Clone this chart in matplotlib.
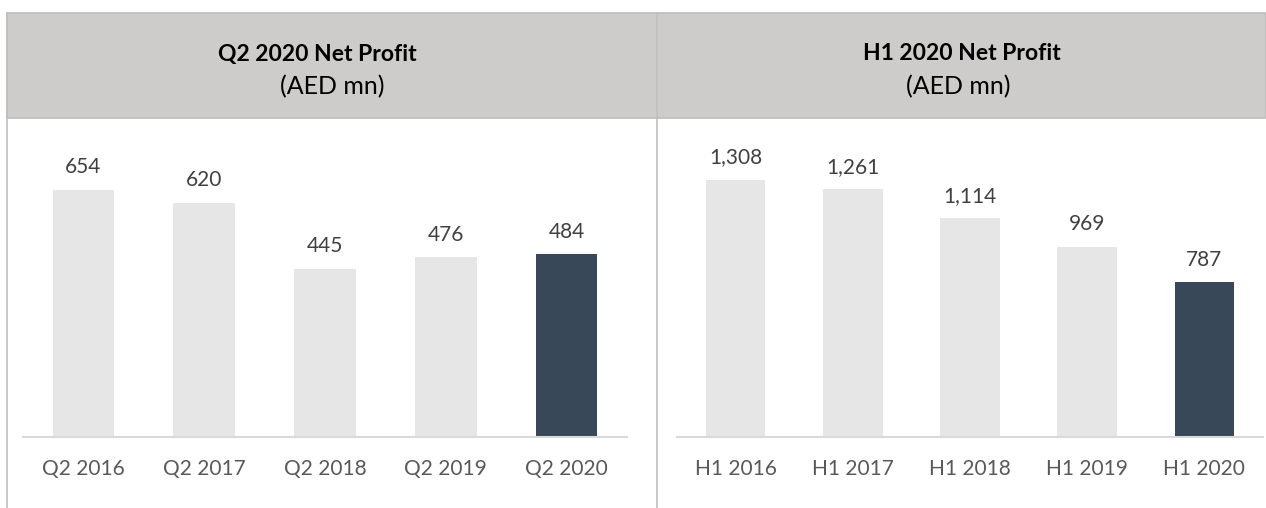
import matplotlib.pyplot as plt
from matplotlib.patches import Rectangle
from matplotlib.lines import Line2D

# Data
q2_labels = ["Q2 2016", "Q2 2017", "Q2 2018", "Q2 2019", "Q2 2020"]
q2_values = [654, 620, 445, 476, 484]
h1_labels = ["H1 2016", "H1 2017", "H1 2018", "H1 2019", "H1 2020"]
h1_values = [1308, 1261, 1114, 969, 787]

titles = ["Q2 2020 Net Profit", "H1 2020 Net Profit"]
subtitle = "(AED mn)"

light = "#E7E6E6"
dark = "#394859"
header_fill = "#CDCCCB"
line_grey = "#C0C0C0"
text_col = "#404040"
tick_col = "#595959"

plt.rcParams['font.family'] = ['Lato', 'DejaVu Sans']

W, H = 1266, 508
fig = plt.figure(figsize=(W / 100, H / 100), dpi=100)

def px(x, y):
    # pixel coords (from top-left) -> figure fraction
    return x / W, 1 - y / H

# header band and frame lines
fig.patches.append(Rectangle(px(7, 118), (W - 7) / W, 105 / H, transform=fig.transFigure,
                             facecolor=header_fill, edgecolor="#BDBDBD", linewidth=1.2))
for x in [7, 657]:
    fig.lines.append(Line2D([x / W, x / W], [1 - 13 / H, 0], transform=fig.transFigure,
                            color=line_grey, linewidth=1.2))

# header texts
for cx, t in zip([317, 962], titles):
    fig.text(cx / W, 1 - 54 / H, t, ha="center", va="center", fontsize=16.5,
             fontweight="bold", color="black")
for cx in [332, 958]:
    fig.text(cx / W, 1 - 87 / H, subtitle, ha="center", va="center", fontsize=18,
             color="black")

base_y = 437
panels = [
    (23, 627, q2_labels, q2_values, 0.378),
    (677, 1263, h1_labels, h1_values, 0.1965),
]
top_y = 130

for x0, x1, labels, values, scale in panels:
    l, b = px(x0, base_y)
    ax = fig.add_axes([l, b, (x1 - x0) / W, (base_y - top_y) / H])
    colors = [light] * (len(values) - 1) + [dark]
    pos = range(len(values))
    ax.bar(pos, values, width=0.51, color=colors)
    ax.set_xlim(-0.5, len(values) - 0.5)
    ax.set_ylim(0, (base_y - top_y) / scale)
    for p, v in zip(pos, values):
        ax.annotate(f"{v:,}", (p, v), xytext=(0, 9), textcoords="offset points",
                    ha="center", va="bottom", fontsize=15, color=text_col)
    ax.set_xticks(list(pos))
    ax.set_xticklabels(labels, fontsize=15, color=tick_col)
    ax.tick_params(axis="x", length=0, pad=15.5)
    ax.set_yticks([])
    for s in ["top", "left", "right"]:
        ax.spines[s].set_visible(False)
    ax.spines["bottom"].set_color("#D9D9D9")
    ax.spines["bottom"].set_linewidth(1.5)
    ax.patch.set_alpha(0)

fig.savefig("out.png", dpi=100)
